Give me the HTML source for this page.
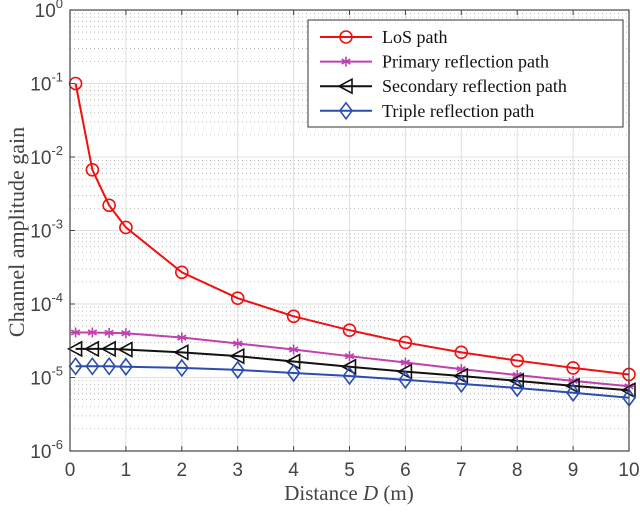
<!DOCTYPE html>
<html><head><meta charset="utf-8"><style>
body{margin:0;background:#fff}
svg text{font-family:"Liberation Sans",sans-serif}
.serif{font-family:"Liberation Serif",serif}
</style></head><body>
<svg id="chart" width="640" height="509" xmlns="http://www.w3.org/2000/svg">
<g id="grid"></g>
<g id="series"></g>
<rect x="70" y="10" width="559" height="441" fill="none" stroke="#444" stroke-width="1.2"/>
<g id="ticks"></g>
<text class="serif" x="349" y="500" text-anchor="middle" font-size="21" fill="#444">Distance <tspan font-style="italic">D</tspan> (m)</text>
<text class="serif" transform="translate(24,232) rotate(-90)" text-anchor="middle" font-size="22" fill="#444">Channel amplitude gain</text>
<g>
<rect x="308" y="20" width="315" height="107" fill="#fff" stroke="#333" stroke-width="1"/>
<g id="legend-items"></g>
</g>
</svg>
<script>
const xVals=[0.1,0.4,0.7,1,2,3,4,5,6,7,8,9,10];
const losVals=[1e-1,6.7e-3,2.2e-3,1.1e-3,2.7e-4,1.2e-4,6.8e-5,4.4e-5,3.0e-5,2.2e-5,1.7e-5,1.35e-5,1.1e-5];
const primaryVals=[4.1e-5,4.1e-5,4.05e-5,4.0e-5,3.5e-5,2.9e-5,2.4e-5,1.95e-5,1.6e-5,1.3e-5,1.08e-5,9.0e-6,7.6e-6];
const secondaryVals=[2.45e-5,2.45e-5,2.45e-5,2.4e-5,2.2e-5,1.95e-5,1.65e-5,1.4e-5,1.2e-5,1.05e-5,9e-6,7.7e-6,6.7e-6];
const tripleVals=[1.42e-5,1.42e-5,1.42e-5,1.4e-5,1.35e-5,1.27e-5,1.15e-5,1.05e-5,9.3e-6,8.2e-6,7.2e-6,6.2e-6,5.3e-6];
const xTicks=[0,1,2,3,4,5,6,7,8,9,10];
const yExps=[0,-1,-2,-3,-4,-5,-6];
const legendLabels=["LoS path","Primary reflection path","Secondary reflection path","Triple reflection path"];
const NS="http://www.w3.org/2000/svg";
const X0=70,X1=629,Y0=10,Y1=451;
const sx=v=>X0+(v-0)/10*(X1-X0);
const sy=v=>Y0+(0-Math.log10(v))/6*(Y1-Y0);
function mk(tag,attrs,parent){const e=document.createElementNS(NS,tag);for(const k in attrs)e.setAttribute(k,attrs[k]);parent.appendChild(e);return e;}
const grid=document.getElementById('grid'),ticks=document.getElementById('ticks'),ser=document.getElementById('series');
for(let e=-6;e<0;e++){for(let m=2;m<10;m++){const y=sy(m*Math.pow(10,e));const l=mk('line',{x1:X0,x2:X1,y1:y,y2:y,stroke:'#aaa','stroke-width':0.8,'stroke-dasharray':'1,3'},grid);}}
yExps.forEach(e=>{const y=sy(Math.pow(10,e));
const g=mk('line',{x1:X0,x2:X1,y1:y,y2:y,stroke:'#e0e0e0','stroke-width':1},grid);
const t=mk('text',{x:63,y:y+7,'text-anchor':'end','font-size':19,fill:'#444'},ticks);
t.innerHTML='10<tspan dy="-9" font-size="13">'+e+'</tspan>';
mk('line',{x1:X0,x2:X0+5,y1:y,y2:y,stroke:'#444'},ticks);});
xTicks.forEach(v=>{const x=sx(v);
const g=mk('line',{x1:x,x2:x,y1:Y0,y2:Y1,stroke:'#e0e0e0','stroke-width':1},grid);
mk('line',{x1:x,x2:x,y1:Y1,y2:Y1-5,stroke:'#444'},ticks);mk('line',{x1:x,x2:x,y1:Y0,y2:Y0+5,stroke:'#444'},ticks);
const t=mk('text',{x:x,y:476,'text-anchor':'middle','font-size':19,fill:'#444'},ticks);t.textContent=v;
});
function marker(type,x,y,color,parent){
 if(type==='o')return mk('circle',{cx:x,cy:y,r:6,fill:'none',stroke:color,'stroke-width':1.6},parent);
 if(type==='*'){const g=mk('g',{stroke:color,'stroke-width':1.6},parent);[[0,5],[4.3,2.5],[4.3,-2.5]].forEach(([a,b])=>mk('line',{x1:x-a,y1:y-b,x2:x+a,y2:y+b},g));mk('line',{x1:x-5,y1:y,x2:x+5,y2:y},g);return g;}
 if(type==='<')return mk('path',{d:`M${x-7},${y}L${x+6},${y-7}L${x+6},${y+7}Z`,fill:'none',stroke:color,'stroke-width':1.6},parent);
 return mk('path',{d:`M${x},${y-8}L${x+6},${y}L${x},${y+8}L${x-6},${y}Z`,fill:'none',stroke:color,'stroke-width':1.6},parent);
}
const series=[[losVals,'#f01010','o','los-series'],[primaryVals,'#c040b0','*','primary-series'],[secondaryVals,'#111','<','secondary-series'],[tripleVals,'#2a4db0','d','triple-series']];
series.forEach(([vals,c,m,name])=>{const g=mk('g',{},ser);
 const p=mk('polyline',{points:vals.map((v,i)=>sx(xVals[i])+','+sy(v)).join(' '),fill:'none',stroke:c,'stroke-width':2},g);
 
 vals.forEach((v,i)=>{const mm=marker(m,sx(xVals[i]),sy(v),c,g);});});
const li=document.getElementById('legend-items');
legendLabels.forEach((lab,i)=>{const y=37+i*24.6;const [,c,m]=series[i];
 const g=mk('g',{},li);
 mk('line',{x1:320,x2:372,y1:y,y2:y,stroke:c,'stroke-width':2},g);marker(m,346,y,c,g);
 const t=mk('text',{x:382,y:y+6,'font-size':18,fill:'#111',class:'serif'},g);t.textContent=lab;});
</script>
</body></html>
